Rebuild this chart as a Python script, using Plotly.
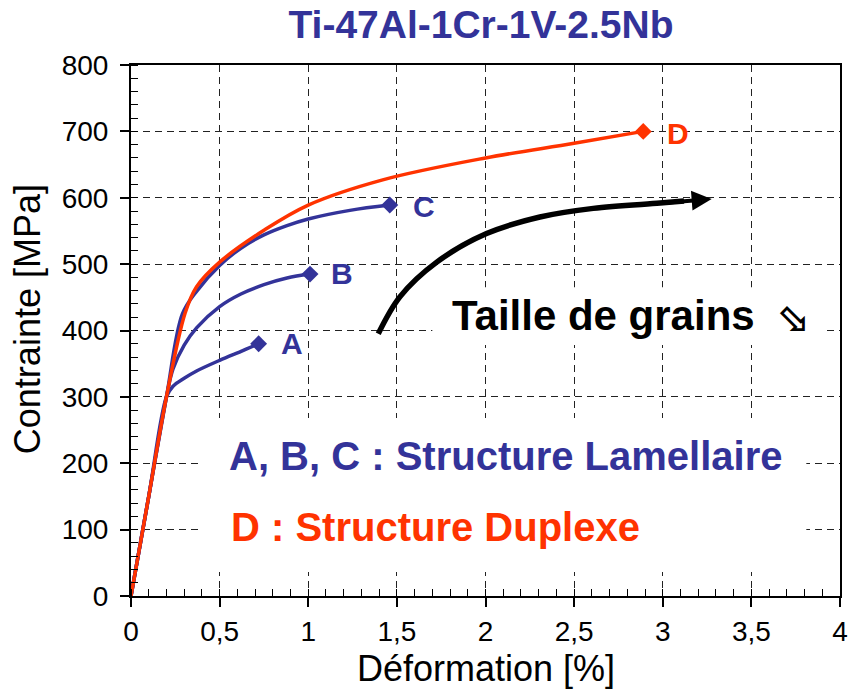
import plotly.graph_objects as go

# Stress-strain curves, Ti-47Al-1Cr-1V-2.5Nb
strain_a = [0, 0.1, 0.2, 0.237, 0.30, 0.37, 0.5, 0.634, 0.72]
stress_a = [0, 150, 300, 316, 328, 339, 355, 370, 380]

strain_b = [0, 0.1, 0.2, 0.237, 0.30, 0.37, 0.5, 0.62, 0.75, 0.88, 1.01]
stress_b = [0, 150, 300, 342, 378, 404, 436, 455, 469, 479, 485]

strain_c = [0, 0.1, 0.2, 0.29, 0.37, 0.5, 0.62, 0.75, 0.88, 1.0, 1.235, 1.46]
stress_c = [0, 150, 300, 425, 459, 498, 524, 544, 558, 568, 581, 589]

strain_d = [0, 0.1, 0.2, 0.305, 0.37, 0.5, 0.75, 1.0, 1.42, 2.0, 2.5, 2.89]
stress_d = [0, 150, 300, 426, 466, 503, 551, 589, 627, 660, 682, 700]

# grain-size trend arrow
trend_x = [1.395, 1.518, 1.725, 2.006, 2.307, 2.608, 2.985, 3.12]
trend_y = [395, 451, 503, 546, 571, 584, 592, 595]
trend_tip = (3.276, 598)

curve_names = ["A", "B", "C", "D"]
x_ticks = [0, 0.5, 1, 1.5, 2, 2.5, 3, 3.5, 4]
y_ticks = [0, 100, 200, 300, 400, 500, 600, 700, 800]

BLUE = "#333399"
RED = "#FF3300"
FONT = "Liberation Sans, Arial, sans-serif"

fig = go.Figure()

series = [
    (strain_a, stress_a, BLUE),
    (strain_b, stress_b, BLUE),
    (strain_c, stress_c, BLUE),
    (strain_d, stress_d, RED),
]
for (xs, ys, col), name in zip(series, curve_names):
    fig.add_trace(go.Scatter(
        x=xs, y=ys, mode="lines", name=name,
        line=dict(color=col, width=3.5, shape="spline", smoothing=1.0),
        hoverinfo="x+y", showlegend=False,
    ))
    fig.add_trace(go.Scatter(
        x=[xs[-1]], y=[ys[-1]], mode="markers", name=name,
        marker=dict(symbol="diamond", size=13, color=col),
        showlegend=False,
    ))

fig.add_trace(go.Scatter(
    x=trend_x, y=trend_y, mode="lines",
    line=dict(color="black", width=5.5, shape="spline", smoothing=1.0),
    hoverinfo="skip", showlegend=False,
))

# white boxes behind the text blocks (hide the grid, stay under the traces)
fig.add_shape(type="rect", xref="x", yref="y", x0=0.39, x1=3.81, y0=36, y1=268,
              fillcolor="white", line_width=0, layer="between")
fig.add_shape(type="rect", xref="x", yref="y", x0=1.70, x1=3.90, y0=378, y1=465,
              fillcolor="white", line_width=0, layer="between")

# arrow head of the trend line
fig.add_annotation(
    x=trend_tip[0], y=trend_tip[1], ax=trend_x[-2], ay=trend_y[-2],
    xref="x", yref="y", axref="x", ayref="y",
    showarrow=True, arrowhead=2, arrowsize=1.0, arrowwidth=4, arrowcolor="black",
    standoff=0, startstandoff=0, text="",
)

# curve end labels
label_pos = [(0.91, 380), (1.19, 486), (1.653, 587), (3.086, 697)]
label_col = [BLUE, BLUE, BLUE, RED]
for name, (lx, ly), col in zip(curve_names, label_pos, label_col):
    fig.add_annotation(x=lx, y=ly, xref="x", yref="y", text=f"<b>{name}</b>",
                       showarrow=False, font=dict(family=FONT, size=30, color=col))

fig.add_annotation(x=0.542, y=211, xref="x", yref="y", xanchor="left",
                   text="<b>A, B, C : Structure Lamellaire</b>", showarrow=False,
                   font=dict(family=FONT, size=40, color=BLUE))
fig.add_annotation(x=0.553, y=104, xref="x", yref="y", xanchor="left",
                   text="<b>D : Structure Duplexe</b>", showarrow=False,
                   font=dict(family=FONT, size=40, color=RED))
fig.add_annotation(x=1.80, y=423, xref="x", yref="y", xanchor="left",
                   text="<b>Taille de grains</b>", showarrow=False,
                   font=dict(family=FONT, size=42, color="black"))
fig.add_annotation(x=3.73, y=422, xref="x", yref="y",
                   text="<b>⬂</b>", showarrow=False,
                   font=dict(family="DejaVu Sans", size=40, color="black"))

# axis titles
fig.add_annotation(x=-0.145, y=0.5217, xref="paper", yref="paper", textangle=-90,
                   xanchor="center", yanchor="middle",
                   text="Contrainte [MPa]", showarrow=False,
                   font=dict(family=FONT, size=36, color="black"))
fig.add_annotation(x=0.5007, y=-0.1356, xref="paper", yref="paper",
                   xanchor="center", yanchor="middle",
                   text="Déformation [%]", showarrow=False,
                   font=dict(family=FONT, size=36, color="black"))

grid = dict(showgrid=True, gridcolor="#222222", gridwidth=1, griddash="7px,5px",
            showline=True, linecolor="black", linewidth=2, mirror=True,
            zeroline=False, ticks="outside", ticklen=9, tickwidth=1.5,
            tickcolor="black", automargin=False,
            tickfont=dict(family=FONT, size=28, color="black"))

fig.update_xaxes(range=[0, 4], tickvals=x_ticks, **grid,
                 minor=dict(ticks="inside", dtick=0.1, ticklen=7, tickcolor="black",
                            tickwidth=1, showgrid=False))
fig.update_yaxes(range=[0, 800], tickvals=y_ticks, **grid, ticklabelstandoff=6,
                 minor=dict(ticks="inside", dtick=20, ticklen=7, tickcolor="black",
                            tickwidth=1, showgrid=False))

fig.update_layout(
    width=849, height=693,
    margin=dict(l=131, r=9, t=65, b=97, autoexpand=False),
    paper_bgcolor="white", plot_bgcolor="white",
    separators=", ",
    title=dict(text="<b>Ti-47Al-1Cr-1V-2.5Nb</b>", x=481 / 849, xanchor="center",
               y=1 - 24 / 693, yanchor="middle",
               font=dict(family=FONT, size=39, color=BLUE)),
)

fig.write_html("out.html")
